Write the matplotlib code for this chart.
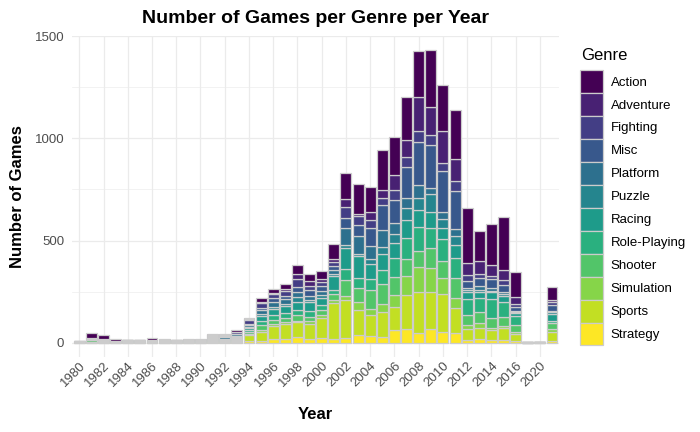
import numpy as np
import matplotlib
matplotlib.use("Agg")
import matplotlib.pyplot as plt
import matplotlib.cm as cm
from matplotlib.patches import Patch

plt.rcParams['font.family'] = ['Liberation Sans', 'DejaVu Sans']

years = [str(y) for y in range(1980, 2018)] + ['2020', 'N/A']

genres = ['Action', 'Adventure', 'Fighting', 'Misc', 'Platform', 'Puzzle',
          'Racing', 'Role-Playing', 'Shooter', 'Simulation', 'Sports', 'Strategy']

# counts per year (1980..2017, 2020, N/A)
action = [1, 25, 18, 7, 1, 2, 6, 2, 2, 2, 3, 5, 3, 6, 4, 18, 20, 26, 45, 38,
          36, 74, 127, 144, 123, 194, 187, 209, 224, 276, 221, 241, 269, 146, 200, 256, 118, 1, 0, 63]
adventure = [0, 0, 0, 1, 0, 0, 0, 1, 0, 0, 0, 2, 3, 3, 4, 5, 6, 12, 21, 21,
             18, 14, 39, 10, 38, 38, 73, 85, 166, 139, 158, 109, 57, 65, 57, 52, 38, 0, 0, 8]
fighting = [1, 0, 0, 0, 0, 1, 0, 2, 0, 0, 0, 2, 6, 7, 20, 26, 20, 22, 41, 23,
            18, 20, 54, 44, 41, 33, 52, 49, 54, 49, 41, 46, 29, 20, 15, 24, 11, 0, 0, 18]
misc = [4, 0, 1, 1, 1, 0, 0, 0, 0, 1, 1, 3, 3, 3, 7, 8, 20, 16, 24, 26,
        24, 18, 49, 54, 90, 126, 109, 152, 212, 212, 199, 188, 36, 36, 41, 36, 21, 0, 0, 26]
platform = [0, 3, 5, 5, 1, 4, 6, 2, 4, 3, 4, 7, 11, 9, 9, 21, 22, 22, 24, 20,
            20, 22, 82, 90, 62, 83, 54, 46, 65, 29, 33, 33, 8, 21, 15, 10, 7, 0, 0, 8]
puzzle = [0, 2, 3, 1, 3, 4, 0, 0, 1, 5, 1, 4, 3, 4, 5, 11, 12, 12, 24, 10,
          12, 10, 13, 8, 23, 33, 44, 60, 60, 85, 46, 44, 8, 8, 8, 7, 5, 0, 0, 10]
racing = [0, 1, 2, 0, 3, 0, 1, 0, 1, 0, 2, 3, 4, 5, 8, 24, 28, 34, 41, 45,
          35, 68, 106, 109, 75, 78, 75, 90, 83, 78, 54, 65, 36, 33, 34, 29, 11, 0, 0, 31]
role_playing = [0, 0, 0, 0, 0, 0, 1, 3, 3, 2, 2, 3, 3, 6, 12, 20, 22, 22, 24, 30,
                28, 20, 52, 49, 55, 69, 93, 103, 113, 101, 106, 98, 78, 69, 90, 73, 46, 2, 0, 11]
shooter = [2, 10, 5, 1, 3, 1, 4, 2, 1, 1, 1, 2, 2, 5, 11, 24, 20, 20, 28, 20,
           24, 28, 78, 70, 91, 98, 90, 82, 83, 95, 82, 98, 49, 54, 49, 44, 33, 0, 0, 29]
simulation = [0, 1, 0, 0, 0, 1, 0, 0, 1, 0, 1, 2, 0, 3, 5, 12, 12, 14, 8, 15,
              15, 16, 20, 36, 28, 41, 57, 93, 121, 121, 82, 49, 20, 21, 11, 10, 10, 0, 1, 15]
sports = [1, 4, 2, 1, 2, 1, 3, 4, 2, 3, 1, 4, 2, 8, 28, 40, 62, 72, 70, 70,
          94, 172, 188, 122, 103, 119, 111, 168, 201, 181, 186, 122, 54, 55, 51, 60, 36, 0, 0, 42]
strategy = [0, 0, 0, 0, 0, 0, 0, 0, 0, 0, 0, 4, 3, 1, 8, 10, 19, 17, 29, 20,
            25, 20, 21, 39, 34, 29, 63, 65, 46, 65, 51, 46, 13, 18, 11, 13, 8, 0, 0, 10]

counts = [action, adventure, fighting, misc, platform, puzzle,
          racing, role_playing, shooter, simulation, sports, strategy]

colors = cm.viridis(np.linspace(0, 1, len(genres)))
edge = '#cccccc'

fig = plt.figure(figsize=(7, 4.32), dpi=100)
ax = fig.add_axes([72 / 700, (432 - 357.3) / 432, (559.3 - 72) / 700, (357.3 - 35.7) / 432])

x = np.arange(len(years))
bottom = np.zeros(len(years))
# ggplot stacks the first level on top, so draw from Strategy upward
for genre, vals, color in reversed(list(zip(genres, counts, colors))):
    vals = np.array(vals, dtype=float)
    ax.bar(x, vals, width=0.9, bottom=bottom, color=color,
           edgecolor=edge, linewidth=0.9, zorder=3)
    bottom += vals

ymax = bottom.max()
ax.set_ylim(-0.05 * ymax, ymax * 1.05)
ax.set_xlim(-0.6, len(years) - 0.4)

ax.set_yticks([0, 500, 1000, 1500])
ax.set_yticks([250, 750, 1250], minor=True)
ax.set_xticks(x[::2])
ax.set_xticklabels(years[::2], rotation=45, ha='right', va='top',
                   rotation_mode='anchor')

ax.grid(True, which='major', color='#ebebeb', linewidth=0.9, zorder=0)
ax.grid(True, which='minor', axis='y', color='#ebebeb', linewidth=0.45, zorder=0)
for s in ax.spines.values():
    s.set_visible(False)
ax.tick_params(axis='both', which='both', length=0, labelsize=9.5,
               labelcolor='#4d4d4d')
ax.tick_params(axis='y', pad=5.5)
ax.tick_params(axis='x', pad=1.5)

ax.set_title('Number of Games per Genre per Year', fontsize=14,
             fontweight='bold', pad=9)
ax.set_xlabel('Year', fontsize=12, fontweight='bold', labelpad=13)
ax.set_ylabel('Number of Games', fontsize=12, fontweight='bold', labelpad=7)

# legend title drawn on its own so the gap above the keys matches
fig.text(581 / 700, 1 - 56 / 432, 'Genre', fontsize=12, va='center', ha='left')
handles = [Patch(facecolor=c, edgecolor=edge, linewidth=0.9) for c in colors]
leg = ax.legend(handles, genres, loc='upper left',
                bbox_to_anchor=(580 / 700, 1 - 70 / 432),
                bbox_transform=fig.transFigure, frameon=False,
                fontsize=9.5, handlelength=1.72,
                handleheight=2.3, labelspacing=0, handletextpad=0.6,
                borderpad=0, borderaxespad=0)

fig.savefig('out.png', dpi=100)
